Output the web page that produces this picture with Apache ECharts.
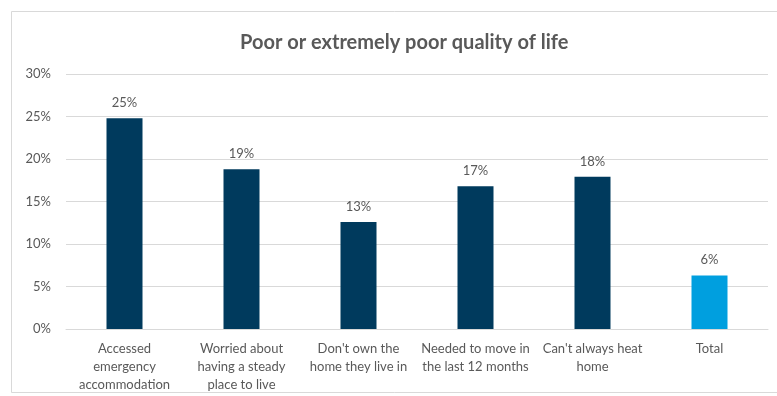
<!DOCTYPE html>
<html>
<head>
<meta charset="utf-8">
<script src="https://cdn.jsdelivr.net/npm/echarts@6/dist/echarts.min.js"></script>
<style>
  html, body { margin: 0; padding: 0; background: #fff; }
  #chart { width: 777px; height: 396px; }
</style>
</head>
<body>
<div id="chart"></div>
<script>
// Share of respondents reporting poor or extremely poor quality of life
const categories = [
  'Accessed\nemergency\naccommodation',
  'Worried about\nhaving a steady\nplace to live',
  "Don't own the\nhome they live in",
  'Needed to move in\nthe last 12 months',
  "Can't always heat\nhome",
  'Total'
];
const values = [24.8, 18.8, 12.6, 16.8, 17.9, 6.3];
const yTicks = [0, 5, 10, 15, 20, 25, 30];

const DARK = '#003A5D';
const LIGHT = '#009FDF';
const TEXT = '#595959';
const FONT = 'Lato, "Open Sans", sans-serif';

const chart = echarts.init(document.getElementById('chart'), null, { renderer: 'canvas' });

chart.setOption({
  backgroundColor: '#fff',
  animation: false,
  graphic: [{
    type: 'rect',
    shape: { x: 11.5, y: 11.5, width: 800, height: 381 },
    style: { fill: 'none', stroke: '#D9D9D9', lineWidth: 1 },
    silent: true
  }],
  title: {
    text: 'Poor or extremely poor quality of life',
    left: 235,
    top: 28,
    textStyle: { color: TEXT, fontSize: 20, fontWeight: 'bold', fontFamily: FONT }
  },
  grid: { left: 66, right: 9, top: 74, bottom: 67 },
  xAxis: {
    type: 'category',
    data: categories,
    axisLine: { lineStyle: { color: '#D9D9D9', width: 1 } },
    axisTick: { show: false },
    axisLabel: {
      interval: 0,
      color: TEXT,
      fontSize: 13,
      lineHeight: 18,
      fontFamily: FONT,
      margin: 11
    }
  },
  yAxis: {
    type: 'value',
    min: yTicks[0],
    max: yTicks[yTicks.length - 1],
    interval: yTicks[1] - yTicks[0],
    axisLine: { show: false },
    axisTick: { show: false },
    splitLine: { lineStyle: { color: '#D9D9D9', width: 1 } },
    axisLabel: {
      color: TEXT,
      fontSize: 13,
      fontFamily: FONT,
      margin: 15,
      formatter: v => v + '%'
    }
  },
  series: [{
    type: 'bar',
    barWidth: 36,
    data: values.map((v, i) => ({
      value: v,
      itemStyle: { color: i === values.length - 1 ? LIGHT : DARK }
    })),
    label: {
      show: true,
      position: 'top',
      distance: 9,
      color: TEXT,
      fontSize: 13,
      fontFamily: FONT,
      formatter: p => Math.round(p.value) + '%'
    }
  }]
});
</script>
</body>
</html>
